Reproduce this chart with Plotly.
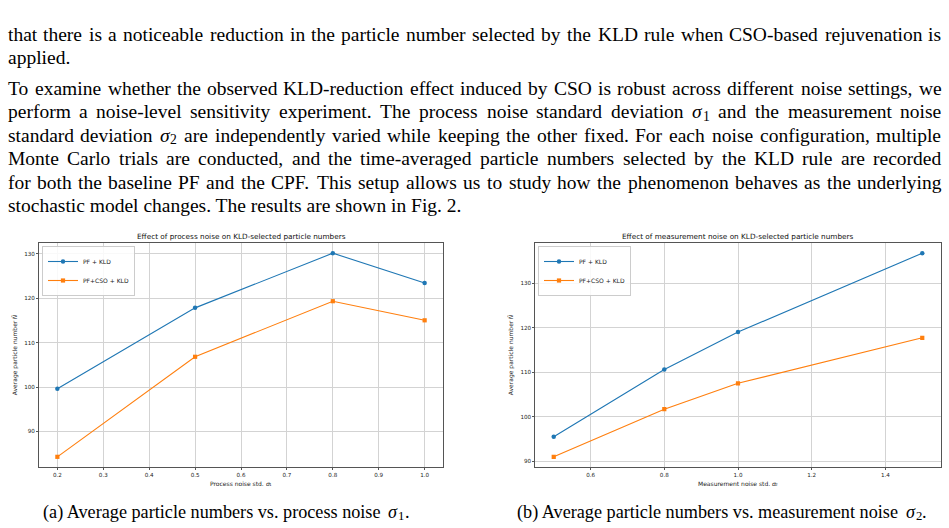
import plotly.graph_objects as go

W, H = 949, 528

# ---------------- data ----------------
process_noise = [0.2, 0.5, 0.8, 1.0]
pf_kld_process = [99.6, 117.8, 130.1, 123.4]
cpf_kld_process = [84.3, 106.8, 119.3, 115.0]

meas_noise = [0.5, 0.8, 1.0, 1.5]
pf_kld_meas = [95.5, 110.6, 119.0, 136.7]
cpf_kld_meas = [91.0, 101.7, 107.5, 117.7]

series_names = ["PF + KLD", "PF+CSO + KLD"]
chart_titles = ["Effect of process noise on KLD-selected particle numbers",
                "Effect of measurement noise on KLD-selected particle numbers"]
x_title_main = ["Process noise std.", "Measurement noise std."]
x_title_sub = ["1", "2"]
y_title_main = "Average particle number"
y_title_sym = "N\u0304"
caption_main = ["(a) Average particle numbers vs. process noise",
                "(b) Average particle numbers vs. measurement noise"]
caption_sub = ["1", "2"]

para1 = [
    ("that there is a noticeable reduction in the particle number selected by the KLD rule when CSO-based rejuvenation is", True),
    ("applied.", False),
]
para2 = [
    ("To examine whether the observed KLD-reduction effect induced by CSO is robust across different noise settings, we", True),
    ("perform a noise-level sensitivity experiment. The process noise standard deviation SIG1 and the measurement noise", True),
    ("standard deviation SIG2 are independently varied while keeping the other fixed. For each noise configuration, multiple", True),
    ("Monte Carlo trials are conducted, and the time-averaged particle numbers selected by the KLD rule are recorded", True),
    ("for both the baseline PF and the CPF. This setup allows us to study how the phenomenon behaves as the underlying", True),
    ("stochastic model changes. The results are shown in Fig. 2.", False),
]

# ---------------- text layout helpers ----------------
TW = {' ': 250, '!': 333, ',': 250, '-': 333, '.': 250, '(': 333, ')': 333, ':': 278, ';': 278,
      '0': 500, '1': 500, '2': 500, '3': 500, '4': 500, '5': 500, '6': 500, '7': 500, '8': 500, '9': 500,
      'A': 722, 'B': 667, 'C': 667, 'D': 722, 'E': 611, 'F': 556, 'G': 722, 'H': 722, 'I': 333, 'J': 389,
      'K': 722, 'L': 611, 'M': 889, 'N': 722, 'O': 722, 'P': 556, 'Q': 722, 'R': 667, 'S': 556, 'T': 611,
      'U': 722, 'V': 722, 'W': 944, 'X': 722, 'Y': 722, 'Z': 611,
      'a': 444, 'b': 500, 'c': 444, 'd': 500, 'e': 444, 'f': 333, 'g': 500, 'h': 500, 'i': 278, 'j': 278,
      'k': 500, 'l': 278, 'm': 778, 'n': 500, 'o': 500, 'p': 500, 'q': 500, 'r': 333, 's': 389, 't': 278,
      'u': 500, 'v': 500, 'w': 722, 'x': 500, 'y': 500, 'z': 444}
DV = {' ': 318, '.': 318, '-': 361, 'A': 684, 'M': 863, 'P': 603,
      'a': 613, 'b': 635, 'c': 550, 'd': 635, 'e': 615, 'g': 635, 'i': 278, 'l': 278, 'm': 974,
      'n': 634, 'o': 612, 'p': 635, 'r': 411, 's': 521, 't': 392, 'u': 634, 'v': 592}

SERIF = "Liberation Serif"
CH_FONT = "DejaVu Sans"
FS = 19.5
LEFT, RIGHT = 7.5, 941.5
SIG_W = 0.53      # italic sigma width (em)
SUB_SCALE = 0.7


def tw(s, size):
    return sum(TW.get(c, 500) for c in s) / 1000.0 * size


def dv(s, size):
    return sum(DV.get(c, 600) for c in s) / 1000.0 * size


annotations = []


def add_text(text, px, py, size, family, xanchor="left", angle=0, color="#000000", style="normal"):
    annotations.append(dict(text=text, x=px / W, y=1 - py / H, xref="paper", yref="paper",
                            xanchor=xanchor, yanchor="middle", showarrow=False, textangle=angle,
                            borderpad=0, borderwidth=0,
                            font=dict(size=size, family=family, color=color, style=style)))


def add_sigma(px, cy, size, family, sub, color="#000000"):
    """italic sigma followed by a subscript digit; returns x after it"""
    add_text("σ", px, cy, size, family, color=color, style="italic")
    sx = px + SIG_W * size + 0.02 * size
    add_text(sub, sx, cy + 0.24 * size, size * SUB_SCALE, family, color=color)
    return sx + 0.5 * size * SUB_SCALE


def word_width(w):
    if w.startswith("SIG"):
        return (SIG_W + 0.02 + 0.5 * SUB_SCALE) * FS
    return tw(w, FS)


def add_line(line, justified, cy):
    words = line.split(" ")
    if not justified:
        add_text(line, LEFT, cy, FS, SERIF)
        return
    widths = [word_width(w) for w in words]
    gap = (RIGHT - LEFT - sum(widths)) / (len(words) - 1)
    x = LEFT
    for w, wd in zip(words, widths):
        if w.startswith("SIG"):
            add_sigma(x, cy, FS, SERIF, w[3:])
        else:
            add_text(w, x, cy, FS, SERIF)
        x += wd + gap


LS = 23.4
for i, (ln, j) in enumerate(para1):
    add_line(ln, j, 34.5 + i * LS)
for i, (ln, j) in enumerate(para2):
    add_line(ln, j, 88.5 + i * LS)

# ---------------- charts ----------------
BLUE, ORANGE = "#1f77b4", "#ff7f0e"

fig = go.Figure()
for xs, ys_pf, ys_cpf, xa, ya, lg in [(process_noise, pf_kld_process, cpf_kld_process, "x", "y", "legend"),
                                      (meas_noise, pf_kld_meas, cpf_kld_meas, "x2", "y2", "legend2")]:
    fig.add_trace(go.Scatter(x=xs, y=ys_pf, name=series_names[0], mode="lines+markers",
                             line=dict(color=BLUE, width=1.1),
                             marker=dict(symbol="circle", size=4.5, color=BLUE),
                             xaxis=xa, yaxis=ya, legend=lg))
    fig.add_trace(go.Scatter(x=xs, y=ys_cpf, name=series_names[1], mode="lines+markers",
                             line=dict(color=ORANGE, width=1.1),
                             marker=dict(symbol="square", size=4.2, color=ORANGE),
                             xaxis=xa, yaxis=ya, legend=lg))


def pad_range(vals, frac=0.05):
    lo, hi = min(vals), max(vals)
    s = hi - lo
    return [lo - frac * s, hi + frac * s]


plot_top, plot_bot = 243, 467
left_box = (39, 443)
right_box = (535.3, 940.7)

axis_common = dict(showline=True, mirror=True, linecolor="#555555", linewidth=1,
                   showgrid=True, gridcolor="#d3d3d3", gridwidth=1, zeroline=False,
                   ticks="outside", ticklen=2, tickcolor="#555555", tickwidth=1,
                   tickfont=dict(family=CH_FONT, size=5.6, color="#222222"))
legend_common = dict(xanchor="left", yanchor="top",
                     bgcolor="rgba(255,255,255,0.85)", bordercolor="#cccccc", borderwidth=1,
                     font=dict(family=CH_FONT, size=6, color="#222222"), tracegroupgap=0)

fig.update_layout(
    width=W, height=H, margin=dict(l=0, r=0, t=0, b=0),
    paper_bgcolor="white", plot_bgcolor="white",
    xaxis=dict(domain=[left_box[0] / W, left_box[1] / W], anchor="y",
               range=pad_range(process_noise), dtick=0.1, tick0=0, tickformat=".1f", **axis_common),
    yaxis=dict(domain=[1 - plot_bot / H, 1 - plot_top / H], anchor="x",
               range=pad_range(pf_kld_process + cpf_kld_process), dtick=10, tick0=0, **axis_common),
    xaxis2=dict(domain=[right_box[0] / W, right_box[1] / W], anchor="y2",
                range=pad_range(meas_noise), dtick=0.2, tick0=0, tickformat=".1f", **axis_common),
    yaxis2=dict(domain=[1 - plot_bot / H, 1 - plot_top / H], anchor="x2",
                range=pad_range(pf_kld_meas + cpf_kld_meas), dtick=10, tick0=0, **axis_common),
    legend=dict(x=42 / W, y=1 - 246 / H, **legend_common),
    legend2=dict(x=538 / W, y=1 - 246 / H, **legend_common),
    showlegend=True,
)

CH_COL = "#222222"
XS = 6.0
for k, ((x0, x1), ytx) in enumerate(zip([left_box, right_box], [15, 511])):
    cx = (x0 + x1) / 2
    # chart title
    add_text(chart_titles[k], cx, 236, 7.3, CH_FONT, xanchor="center", color="#111111")
    # x-axis title: main text + italic sigma + subscript
    main_w = dv(x_title_main[k], XS)
    total = main_w + dv(" ", XS) + SIG_W * 1.15 * XS + 0.636 * XS * SUB_SCALE
    sx = cx - total / 2
    add_text(x_title_main[k], sx, 483, XS, CH_FONT, color=CH_COL)
    add_sigma(sx + main_w + dv(" ", XS), 483, XS, CH_FONT, x_title_sub[k], color=CH_COL)
    # y-axis title (rotated): main text + italic N-bar at the top end
    cy = (plot_top + plot_bot) / 2
    yw = dv(y_title_main, XS)
    sym_w = 0.75 * XS
    ytotal = yw + dv(" ", XS) + sym_w
    bottom = cy + ytotal / 2
    add_text(y_title_main, ytx, bottom - yw / 2, XS, CH_FONT, xanchor="center", angle=-90, color=CH_COL)
    add_text(y_title_sym, ytx - 0.3, bottom - ytotal + sym_w / 2, XS, CH_FONT, xanchor="center",
             angle=-90, color=CH_COL, style="italic")

# sub-figure captions
CFS = 18.2
for k, ccx in enumerate([226, 722]):
    main_w = tw(caption_main[k], CFS)
    total = main_w + tw(" ", CFS) + SIG_W * CFS + 0.02 * CFS + 0.5 * CFS * SUB_SCALE + tw(".", CFS)
    sx = ccx - total / 2
    add_text(caption_main[k], sx, 512, CFS, SERIF)
    ex = add_sigma(sx + main_w + tw(" ", CFS), 512, CFS, SERIF, caption_sub[k])
    add_text(".", ex + 0.5, 512, CFS, SERIF)

fig.update_layout(annotations=annotations)
fig.write_html("out.html")
